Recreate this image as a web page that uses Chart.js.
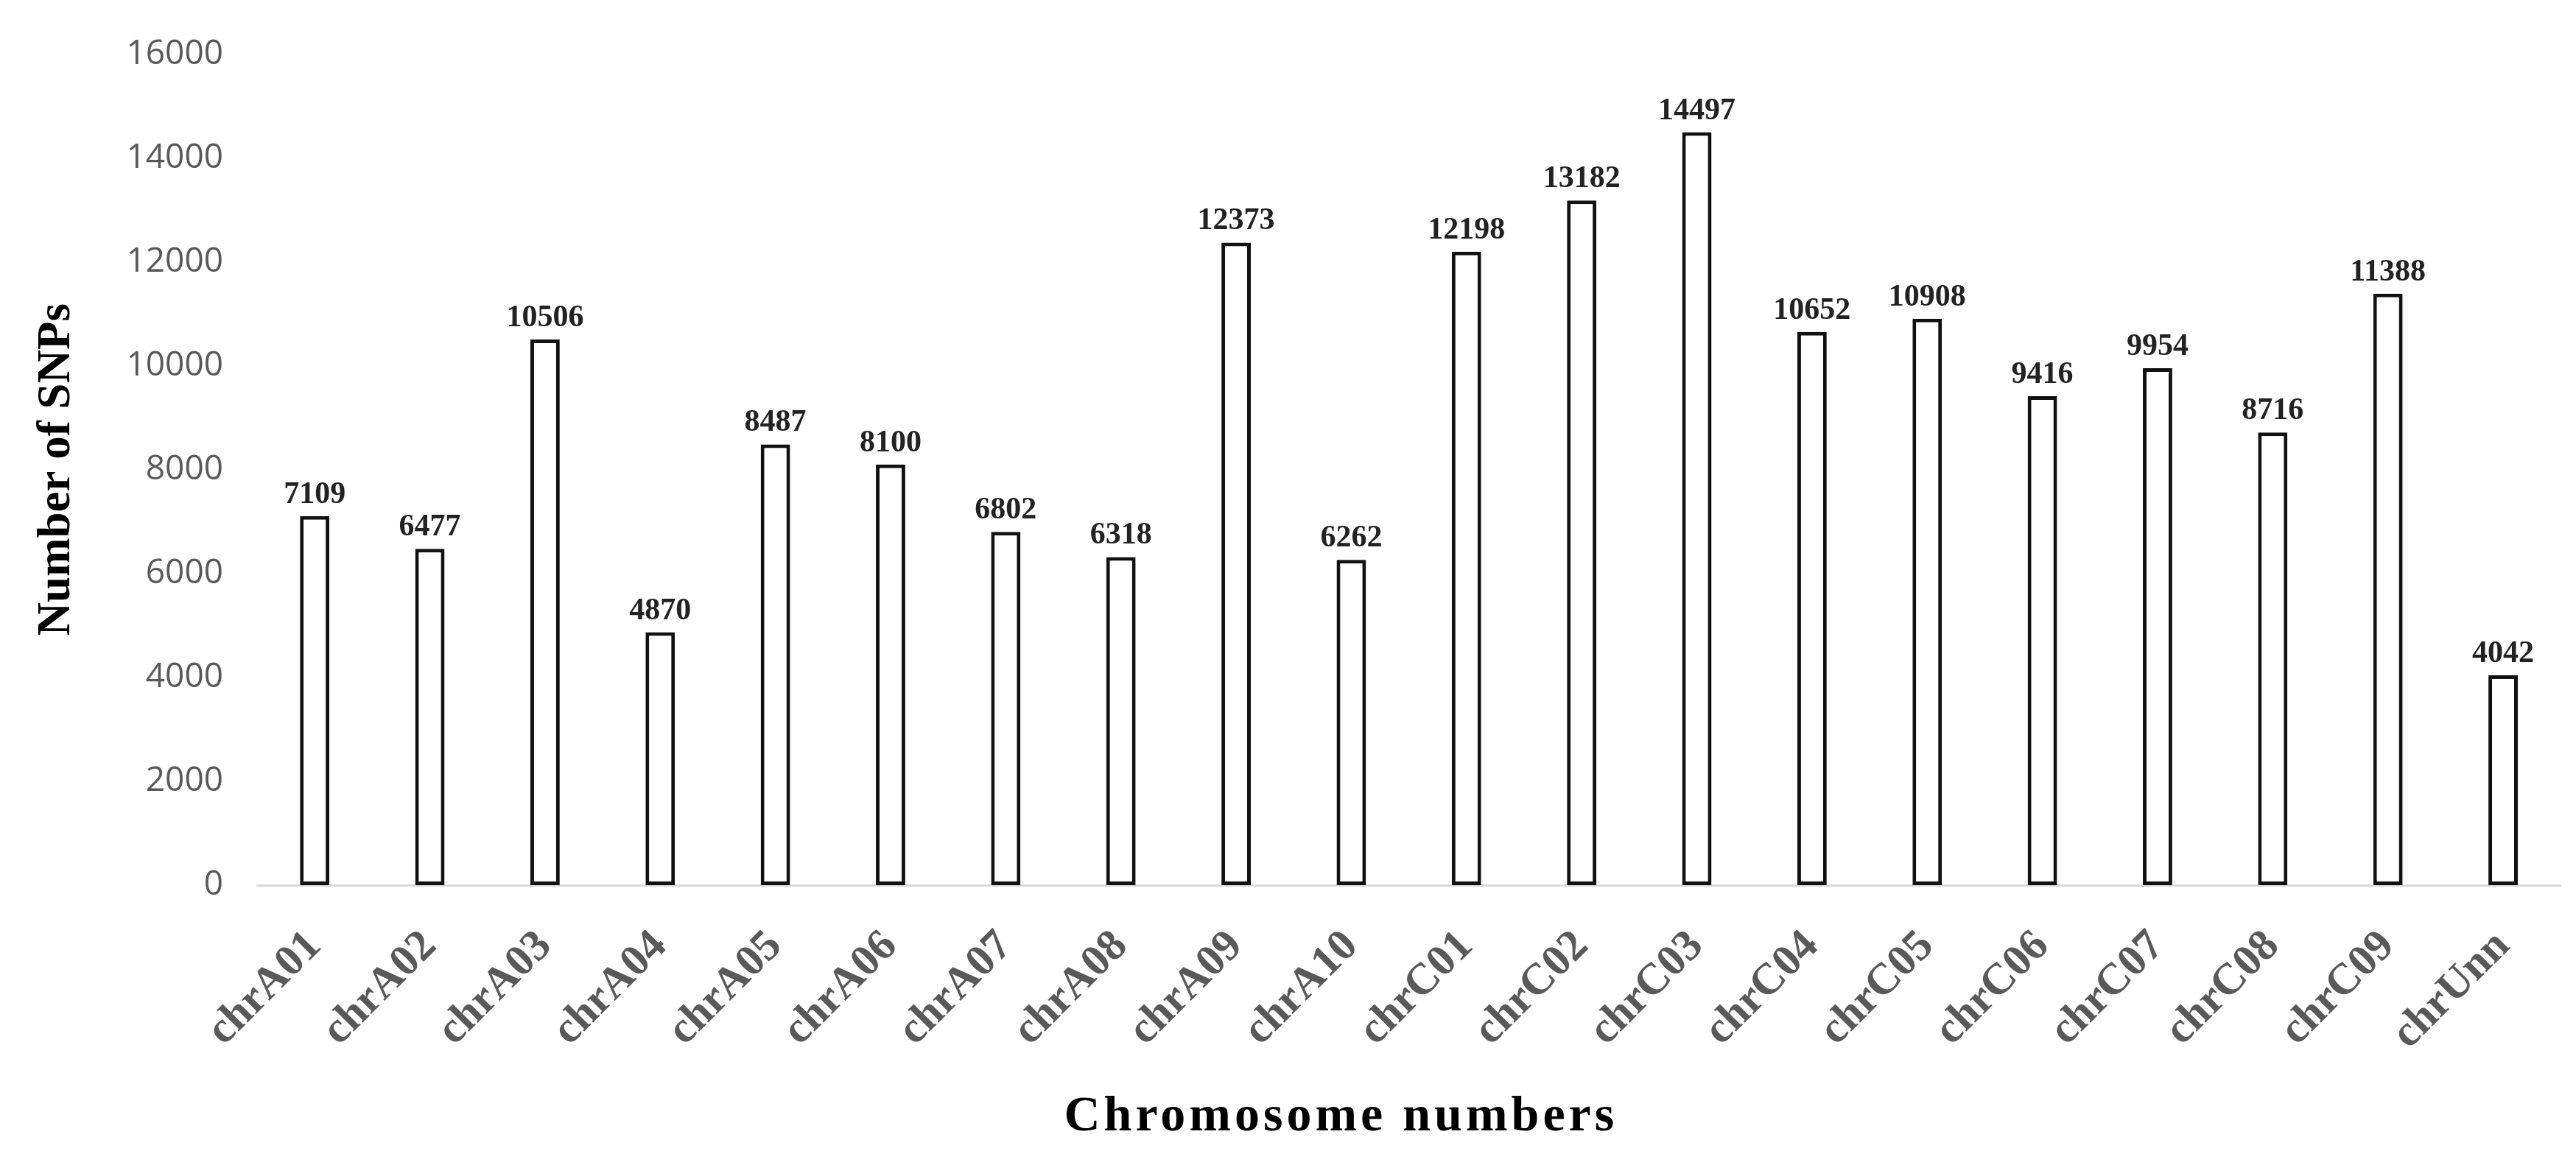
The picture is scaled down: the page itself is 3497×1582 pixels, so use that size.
<!DOCTYPE html>
<html>
<head>
<meta charset="utf-8">
<script src="https://cdn.jsdelivr.net/npm/chart.js@4.4.1/dist/chart.umd.min.js"></script>
<style>
  html, body { margin: 0; padding: 0; background: #ffffff; }
  #wrap { width: 3497px; height: 1582px; position: relative; }
</style>
</head>
<body>
<div id="wrap"><canvas id="c" width="3497" height="1582"></canvas></div>
<script>
const categories = ["chrA01","chrA02","chrA03","chrA04","chrA05","chrA06","chrA07","chrA08","chrA09","chrA10",
                    "chrC01","chrC02","chrC03","chrC04","chrC05","chrC06","chrC07","chrC08","chrC09","chrUnn"];
const snpCounts = [7109, 6477, 10506, 4870, 8487, 8100, 6802, 6318, 12373, 6262,
                   12198, 13182, 14497, 10652, 10908, 9416, 9954, 8716, 11388, 4042];
const yMin = 0;
const yMax = 16000;
const yStep = 2000;
const yTitle = "Number of SNPs";
const xTitle = "Chromosome numbers";

const serif = "'Liberation Serif', 'Times New Roman', serif";
const sans = "'Open Sans', 'Liberation Sans', sans-serif";

const valueLabels = {
  id: 'valueLabels',
  afterDatasetsDraw(chart) {
    const ctx = chart.ctx;
    const meta = chart.getDatasetMeta(0);
    ctx.save();
    ctx.font = "bold 42px " + serif;
    ctx.fillStyle = "#222222";
    ctx.textAlign = "center";
    ctx.textBaseline = "alphabetic";
    meta.data.forEach((bar, i) => {
      ctx.fillText(String(snpCounts[i]), bar.x, bar.y - 18);
    });
    ctx.restore();
  }
};

const bottomTitle = {
  id: 'bottomTitle',
  afterDraw(chart) {
    const ctx = chart.ctx;
    const area = chart.chartArea;
    ctx.save();
    ctx.font = "bold 68px " + serif;
    try { ctx.letterSpacing = "5px"; } catch (e) {}
    ctx.fillStyle = "#000000";
    ctx.textAlign = "center";
    ctx.textBaseline = "alphabetic";
    const cx = area.left + (area.right - area.left) * 0.4705;
    ctx.fillText(xTitle, cx, chart.height - 47);
    ctx.restore();
  }
};

new Chart(document.getElementById('c'), {
  type: 'bar',
  data: {
    labels: categories,
    datasets: [{
      data: snpCounts,
      backgroundColor: '#ffffff',
      borderColor: '#111111',
      borderWidth: 5,
      borderSkipped: false,
      barPercentage: 0.255,
      categoryPercentage: 1.0
    }]
  },
  options: {
    responsive: false,
    devicePixelRatio: 1,
    animation: false,
    layout: { padding: { left: 0, right: 2, top: 62, bottom: 0 } },
    plugins: {
      legend: { display: false },
      tooltip: { enabled: false },
      title: { display: false }
    },
    scales: {
      x: {
        grid: { display: false, drawTicks: false },
        border: { display: true, color: '#d9d9d9', width: 3 },
        ticks: {
          autoSkip: false,
          minRotation: 45,
          maxRotation: 45,
          padding: 48,
          color: '#595959',
          font: { family: serif, size: 60, weight: 'bold' }
        },
        afterFit(scale) { scale.height = 380; }
      },
      y: {
        min: yMin,
        max: yMax,
        grid: { display: false, drawTicks: false },
        border: { display: false },
        ticks: {
          stepSize: yStep,
          padding: 46,
          color: '#595959',
          font: { family: sans, size: 46 },
          callback: (v) => String(v)
        },
        title: {
          display: true,
          text: yTitle,
          color: '#000000',
          font: { family: serif, size: 63, weight: 'bold', lineHeight: 1.2 },
          padding: { top: 40, bottom: 0 }
        },
        afterFit(scale) { scale.width = 349; }
      }
    }
  },
  plugins: [valueLabels, bottomTitle]
});
</script>
</body>
</html>
